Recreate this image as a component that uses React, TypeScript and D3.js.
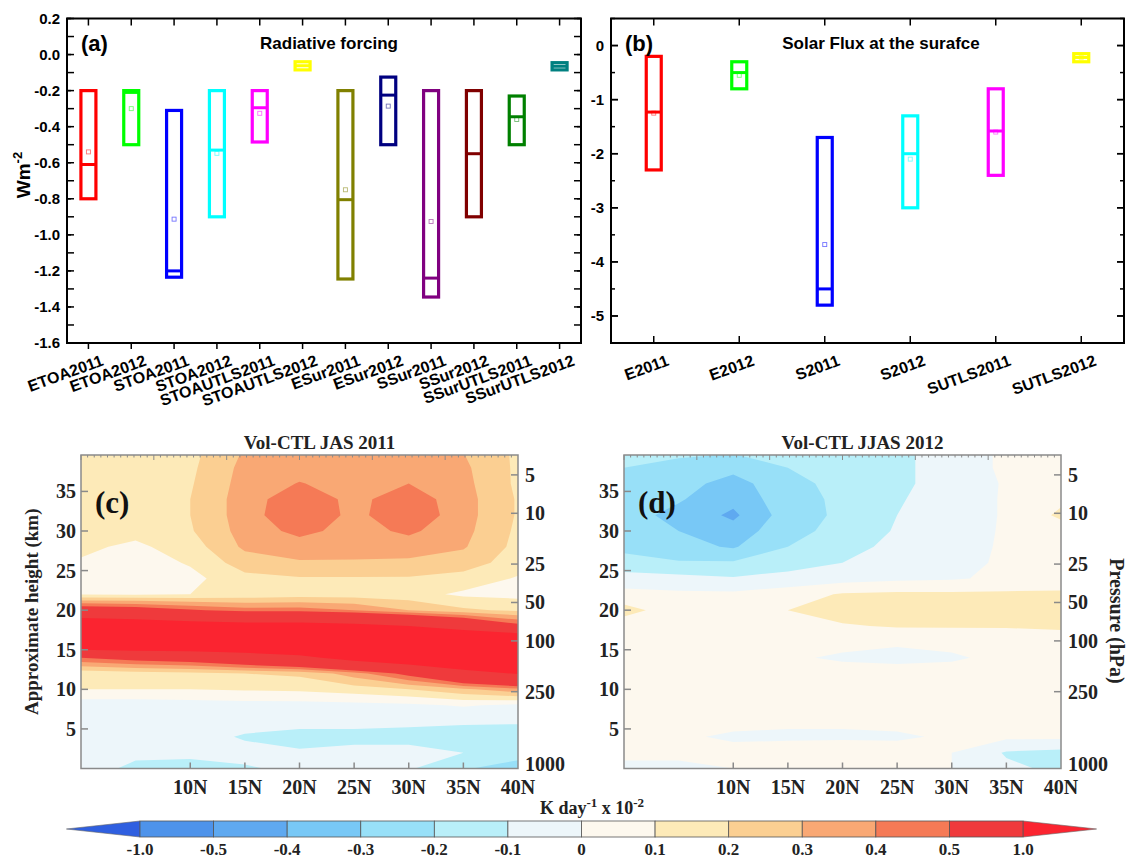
import * as d3 from "d3";

// ---------- (a) Radiative forcing ----------
const radCats = ["ETOA2011", "ETOA2012", "STOA2011", "STOA2012", "STOAUTLS2011", "STOAUTLS2012", "ESur2011", "ESur2012", "SSur2011", "SSur2012", "SSurUTLS2011", "SSurUTLS2012"];
const radTop = [-0.2, -0.2, -0.31, -0.2, -0.2, -0.04, -0.2, -0.125, -0.2, -0.2, -0.23, -0.045];
const radBottom = [-0.8, -0.5, -1.235, -0.9, -0.485, -0.085, -1.245, -0.5, -1.345, -0.9, -0.5, -0.085];
const radMedian = [-0.61, -0.21, -1.2, -0.53, -0.295, -0.062, -0.805, -0.225, -1.24, -0.55, -0.345, -0.065];
const radMean = [-0.54, -0.3, -0.913, -0.548, -0.326, NaN, -0.75, -0.286, -0.926, NaN, -0.36, NaN];
const radColors = ["#ff0000", "#00ff00", "#0000ff", "#00ffff", "#ff00ff", "#ffff00", "#808000", "#000080", "#800080", "#800000", "#008000", "#008080"];
const radTicks = [0.2, 0.0, -0.2, -0.4, -0.6, -0.8, -1.0, -1.2, -1.4, -1.6];

// ---------- (b) Solar flux at the surface ----------
const fluxCats = ["E2011", "E2012", "S2011", "S2012", "SUTLS2011", "SUTLS2012"];
const fluxTop = [-0.2, -0.3, -1.7, -1.3, -0.8, -0.15];
const fluxBottom = [-2.3, -0.8, -4.8, -3.0, -2.4, -0.3];
const fluxMedian = [-1.23, -0.5, -4.5, -2.0, -1.58, -0.22];
const fluxMean = [-1.25, -0.55, -3.68, -2.1, -1.6, -0.22];
const fluxColors = ["#ff0000", "#00ff00", "#0000ff", "#00ffff", "#ff00ff", "#ffff00"];
const fluxTicks = [0, -1, -2, -3, -4, -5];

// ---------- (c), (d) heating rate, K/day x 1e-2 ----------
const lats = [0, 5, 10, 15, 20, 25, 30, 35, 40];
const heights = [40, 38, 36, 34, 32, 30, 28, 26, 24, 22, 20, 18, 16, 14, 12, 10, 8, 6, 4, 2, 0];
const heat2011 = [
  [0.15, 0.15, 0.17, 0.31, 0.33, 0.33, 0.33, 0.3, 0.18],
  [0.15, 0.15, 0.18, 0.33, 0.36, 0.35, 0.36, 0.32, 0.18],
  [0.15, 0.15, 0.19, 0.34, 0.405, 0.36, 0.4, 0.33, 0.18],
  [0.14, 0.15, 0.2, 0.35, 0.47, 0.37, 0.46, 0.34, 0.19],
  [0.13, 0.15, 0.2, 0.35, 0.49, 0.37, 0.48, 0.34, 0.19],
  [0.12, 0.13, 0.19, 0.34, 0.43, 0.36, 0.42, 0.33, 0.18],
  [0.12, 0.08, 0.15, 0.32, 0.35, 0.34, 0.35, 0.31, 0.17],
  [0.09, 0.05, 0.11, 0.25, 0.29, 0.29, 0.28, 0.25, 0.15],
  [0.05, 0.05, 0.07, 0.17, 0.19, 0.19, 0.19, 0.16, 0.09],
  [0.09, 0.09, 0.1, 0.13, 0.15, 0.15, 0.14, 0.08, 0.07],
  [0.64, 0.6, 0.52, 0.45, 0.45, 0.4, 0.3, 0.22, 0.18],
  [1.36, 1.3, 1.2, 1.15, 1.15, 1.1, 1.0, 0.8, 0.55],
  [1.5, 1.55, 1.55, 1.55, 1.55, 1.6, 1.6, 1.6, 1.55],
  [0.5, 0.58, 0.62, 0.75, 0.9, 1.15, 1.35, 1.5, 1.6],
  [0.13, 0.15, 0.17, 0.2, 0.22, 0.35, 0.55, 0.85, 1.02],
  [0.1, 0.1, 0.1, 0.11, 0.12, 0.15, 0.2, 0.28, 0.37],
  [-0.06, -0.06, -0.05, -0.04, -0.04, -0.03, -0.02, 0.01, -0.02],
  [-0.04, -0.05, -0.05, -0.06, -0.07, -0.07, -0.08, -0.09, -0.09],
  [-0.05, -0.05, -0.06, -0.11, -0.13, -0.13, -0.13, -0.13, -0.14],
  [-0.07, -0.08, -0.08, -0.07, -0.09, -0.07, -0.07, -0.1, -0.11],
  [-0.06, -0.12, -0.13, -0.11, -0.08, -0.07, -0.09, -0.18, -0.3],
];
const heat2012 = [
  [-0.16, -0.18, -0.19, -0.17, -0.15, -0.12, -0.06, 0.02, 0.03],
  [-0.2, -0.23, -0.27, -0.2, -0.16, -0.12, -0.06, 0.02, 0.03],
  [-0.24, -0.26, -0.34, -0.23, -0.17, -0.12, -0.06, 0.01, 0.04],
  [-0.25, -0.29, -0.37, -0.24, -0.18, -0.11, -0.05, 0.01, 0.08],
  [-0.26, -0.33, -0.42, -0.25, -0.18, -0.1, -0.05, 0.01, 0.12],
  [-0.25, -0.3, -0.36, -0.23, -0.17, -0.09, -0.04, 0.01, 0.05],
  [-0.22, -0.27, -0.31, -0.2, -0.14, -0.07, -0.03, 0.01, 0.03],
  [-0.17, -0.19, -0.19, -0.15, -0.1, -0.05, -0.02, 0.01, 0.02],
  [-0.05, -0.07, -0.09, -0.06, -0.04, -0.02, -0.01, 0.02, 0.04],
  [0.03, 0.02, 0.02, 0.05, 0.11, 0.12, 0.12, 0.12, 0.12],
  [0.14, 0.04, 0.03, 0.1, 0.15, 0.16, 0.16, 0.16, 0.16],
  [0.04, 0.03, 0.03, 0.05, 0.09, 0.11, 0.11, 0.11, 0.12],
  [0.03, 0.03, 0.03, 0.03, 0.02, 0.01, 0.02, 0.03, 0.04],
  [0.03, 0.03, 0.02, 0.01, -0.01, -0.02, -0.01, 0.02, 0.03],
  [0.03, 0.03, 0.03, 0.03, 0.03, 0.03, 0.03, 0.03, 0.03],
  [0.03, 0.03, 0.03, 0.03, 0.03, 0.03, 0.03, 0.03, 0.03],
  [0.03, 0.03, 0.03, 0.02, 0.03, 0.03, 0.03, 0.03, 0.03],
  [0.02, 0.02, 0.02, 0.01, 0.01, 0.02, 0.02, 0.02, 0.02],
  [0.02, 0.01, -0.01, -0.01, -0.01, -0.01, 0.01, 0.02, 0.02],
  [0.01, 0.01, 0.02, 0.03, 0.04, 0.03, 0.0, -0.11, -0.13],
  [-0.01, -0.01, 0.0, 0.02, 0.05, 0.04, 0.0, -0.08, -0.12],
];
const heightTicks = [5, 10, 15, 20, 25, 30, 35];
const latTicks = [10, 15, 20, 25, 30, 35, 40];
const pressureTicks = [5, 10, 25, 50, 100, 250, 1000];

// colour scale
const levels = [-1.0, -0.5, -0.4, -0.3, -0.2, -0.1, 0, 0.1, 0.2, 0.3, 0.4, 0.5, 1.0];
const levelLabels = ["-1.0", "-0.5", "-0.4", "-0.3", "-0.2", "-0.1", "0", "0.1", "0.2", "0.3", "0.4", "0.5", "1.0"];
const bandColors = ["#4e93ea", "#5fa9f0", "#78c8f6", "#98e0f8", "#b9eff9", "#edf6fa", "#fdf8ee", "#fdeab8", "#fbcf92", "#f9a874", "#f57a56", "#ef3a3c"];
const lowColor = "#2f5fe0";
const highColor = "#fb2430";

const sans = "'Liberation Sans', Arial, sans-serif";
const serif = "'Liberation Serif', 'Times New Roman', serif";

function BoxPanel({ cats, tops, bottoms, medians, means, colors, ticks, domain, left, right, letter, title, titleX, fmt, bottomOut }) {
  const top = 18.5, bottom = 343;
  const x = d3.scaleBand(cats, [left, right]);
  const y = d3.scaleLinear(domain, [bottom, top]);
  const cx = (c) => x(c) + x.bandwidth() / 2;
  const step = ticks[0] - ticks[1];
  const minors = d3.range(domain[0], domain[1] + 1e-6, step / 2);
  const bw = 15;
  return (
    <g>
      {minors.map((v, i) => (
        <g key={"m" + i} stroke="#000" strokeWidth={1.5}>
          <line x1={left} x2={left + (i % 2 === 0 ? 4 : 7)} y1={y(v)} y2={y(v)} />
          <line x1={right} x2={right - (i % 2 === 0 ? 4 : 7)} y1={y(v)} y2={y(v)} />
        </g>
      ))}
      {ticks.map((v) => (
        <g key={v}>
          <line x1={left} x2={left + 7} y1={y(v)} y2={y(v)} stroke="#000" strokeWidth={1.5} />
          <line x1={right} x2={right - 7} y1={y(v)} y2={y(v)} stroke="#000" strokeWidth={1.5} />
          <text x={left - 7} y={y(v)} dy="0.35em" textAnchor="end" fontFamily={sans} fontWeight="bold" fontSize={15}>{fmt(v)}</text>
        </g>
      ))}
      {cats.map((c, i) => (
        <g key={c}>
          <line x1={cx(c)} x2={cx(c)} y1={top} y2={top + 7} stroke="#000" strokeWidth={1.5} />
          <line x1={cx(c)} x2={cx(c)} y1={bottom} y2={bottomOut ? bottom + 6 : bottom - 7} stroke="#000" strokeWidth={1.5} />
          <rect x={cx(c) - bw / 2} width={bw} y={y(tops[i])} height={y(bottoms[i]) - y(tops[i])} fill="none" stroke={colors[i]} strokeWidth={3.2} />
          <line x1={cx(c) - bw / 2} x2={cx(c) + bw / 2} y1={y(medians[i])} y2={y(medians[i])} stroke={colors[i]} strokeWidth={3} />
          {!isNaN(means[i]) && (
            <rect x={cx(c) - 2} y={y(means[i]) - 2} width={4} height={4} fill="none" stroke={colors[i]} strokeOpacity={0.55} strokeWidth={0.9} />
          )}
          <text transform={`translate(${cx(c) + 16},${365}) rotate(-20)`} textAnchor="end" fontFamily={sans} fontWeight="bold" fontSize={16}>{c}</text>
        </g>
      ))}
      <rect x={left} y={top} width={right - left} height={bottom - top} fill="none" stroke="#000" strokeWidth={2} />
      <text x={left + 14} y={51} fontFamily={sans} fontWeight="bold" fontSize={22}>{letter}</text>
      <text x={titleX} y={49} textAnchor="middle" fontFamily={sans} fontWeight="bold" fontSize={17}>{title}</text>
    </g>
  );
}

function ContourPanel({ field, left, title, letter, id, leftTitle, rightTitle }) {
  const width = 437, top = 455, bottom = 768.5;
  const x = d3.scaleLinear([0, 40], [left, left + width]);
  const y = d3.scaleLinear([0, 39.6], [bottom, top]);
  const nx = lats.length, ny = heights.length;
  const dLat = lats[1] - lats[0], dZ = heights[0] - heights[1];
  const polys = d3.contours().size([nx, ny]).thresholds(levels)(field.flat());
  const proj = d3.geoTransform({
    point(px, py) {
      this.stream.point(x(lats[0] + (px - 0.5) * dLat), y(heights[0] - (py - 0.5) * dZ));
    },
  });
  const path = d3.geoPath(proj);
  const topScale = d3.scaleLinear([0, 6], [left, left + width]);
  const topMinor = d3.range(0, 66).map((i) => i / 11);
  const axisCol = "#8a8a8a";
  const pz = (p) => 7 * Math.log(1000 / p);
  return (
    <g>
      <defs>
        <clipPath id={id}>
          <rect x={left} y={top} width={width} height={bottom - top} />
        </clipPath>
      </defs>
      <g clipPath={`url(#${id})`}>
        <rect x={left} y={top} width={width} height={bottom - top} fill={lowColor} />
        {polys.map((p, i) => (
          <path key={i} d={path(p)} fill={i < bandColors.length ? bandColors[i] : highColor} stroke="none" />
        ))}
      </g>
      <rect x={left} y={top} width={width} height={bottom - top} fill="none" stroke={axisCol} strokeWidth={1.5} />
      {topMinor.map((v, i) => (
        <line key={i} x1={topScale(v)} x2={topScale(v)} y1={top} y2={top + (i % 11 === 0 ? 5 : 2.5)} stroke={axisCol} strokeWidth={1} />
      ))}
      {heightTicks.map((h) => (
        <g key={h}>
          <line x1={left} x2={left + 7} y1={y(h)} y2={y(h)} stroke={axisCol} strokeWidth={1.5} />
          <text x={left - 5} y={y(h)} dy="0.35em" textAnchor="end" fontFamily={serif} fontWeight="bold" fontSize={20} fill="#222">{h}</text>
        </g>
      ))}
      {pressureTicks.map((p) => (
        <g key={p}>
          {p < 1000 && <line x1={left + width} x2={left + width - 7} y1={y(pz(p))} y2={y(pz(p))} stroke={axisCol} strokeWidth={1.5} />}
          <text x={left + width + 7} y={Math.min(y(pz(p)), bottom - 5)} dy="0.35em" fontFamily={serif} fontWeight="bold" fontSize={20} fill="#222">{p}</text>
        </g>
      ))}
      {latTicks.map((l) => (
        <g key={l}>
          {l < 40 && <line x1={x(l)} x2={x(l)} y1={bottom} y2={bottom - 6} stroke={axisCol} strokeWidth={1.5} />}
          <text x={x(l)} y={794} textAnchor="middle" fontFamily={serif} fontWeight="bold" fontSize={20} fill="#222">{l + "N"}</text>
        </g>
      ))}
      <text x={left + width / 2 + 20} y={449} textAnchor="middle" fontFamily={serif} fontWeight="bold" fontSize={19} fill="#222">{title}</text>
      <text x={left + 14} y={513} fontFamily={serif} fontWeight="bold" fontSize={31} fill="#111">{letter}</text>
      {leftTitle && (
        <text transform={`translate(${left - 43},${(top + bottom) / 2}) rotate(-90)`} textAnchor="middle" fontFamily={serif} fontWeight="bold" fontSize={19} fill="#222">{leftTitle}</text>
      )}
      {rightTitle && (
        <text transform={`translate(${left + width + 49},${621}) rotate(90)`} textAnchor="middle" fontFamily={serif} fontWeight="bold" fontSize={20} fill="#222">{rightTitle}</text>
      )}
    </g>
  );
}

function ColorBar() {
  const cb = d3.scaleLinear([0, 12], [140, 1023]);
  const y0 = 821, y1 = 837, ym = (y0 + y1) / 2;
  return (
    <g>
      <polygon points={`${cb(0)},${y0} ${cb(-1)},${ym} ${cb(0)},${y1}`} fill={lowColor} stroke="#666" strokeWidth={0.6} />
      <polygon points={`${cb(12)},${y0} ${cb(13)},${ym} ${cb(12)},${y1}`} fill={highColor} stroke="#666" strokeWidth={0.6} />
      {bandColors.map((c, i) => (
        <rect key={i} x={cb(i)} y={y0} width={cb(i + 1) - cb(i)} height={y1 - y0} fill={c} stroke="#555" strokeWidth={0.8} />
      ))}
      {levelLabels.map((l, i) => (
        <text key={l} x={cb(i)} y={855} textAnchor="middle" fontFamily={serif} fontWeight="bold" fontSize={17} fill="#222">{l}</text>
      ))}
      <text x={592} y={814} textAnchor="middle" fontFamily={serif} fontWeight="bold" fontSize={18} fill="#222">
        K day<tspan dy={-7} fontSize={13}>-1</tspan><tspan dy={7}> x 10</tspan><tspan dy={-7} fontSize={13}>-2</tspan>
      </text>
    </g>
  );
}

export default function App() {
  return (
    <svg width={1138} height={866} style={{ position: "absolute", left: 0, top: 0, background: "#fff" }}>
      <BoxPanel cats={radCats} tops={radTop} bottoms={radBottom} medians={radMedian} means={radMean} colors={radColors}
        ticks={radTicks} domain={[-1.6, 0.2]} left={67} right={581} letter="(a)" title="Radiative forcing" titleX={329}
        fmt={(v) => v.toFixed(1)} bottomOut={true} />
      <text transform="translate(30,175) rotate(-90)" textAnchor="middle" fontFamily={sans} fontWeight="bold" fontSize={19}>
        Wm<tspan dy={-8} fontSize={13}>-2</tspan>
      </text>
      <BoxPanel cats={fluxCats} tops={fluxTop} bottoms={fluxBottom} medians={fluxMedian} means={fluxMean} colors={fluxColors}
        ticks={fluxTicks} domain={[-5.5, 0.5]} left={611} right={1124} letter="(b)" title="Solar Flux at the surafce" titleX={881}
        fmt={(v) => String(v)} bottomOut={false} />
      <ContourPanel field={heat2011} left={81} id="clipC" title="Vol-CTL JAS 2011" letter="(c)" leftTitle="Approximate height (km)" />
      <ContourPanel field={heat2012} left={624} id="clipD" title="Vol-CTL JJAS 2012" letter="(d)" rightTitle="Pressure (hPa)" />
      <ColorBar />
    </svg>
  );
}
